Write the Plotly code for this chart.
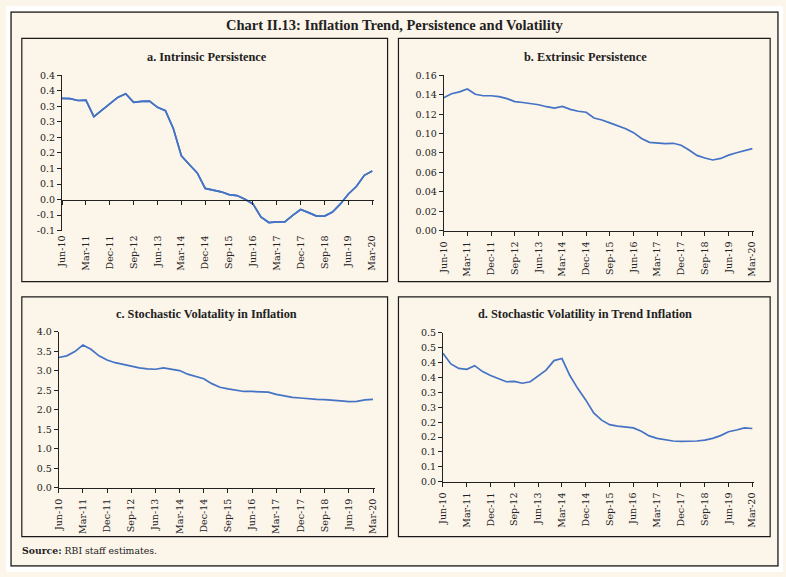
import plotly.graph_objects as go

W, H = 786, 577

quarters = [
    "Jun-10", "Sep-10", "Dec-10", "Mar-11", "Jun-11", "Sep-11", "Dec-11", "Mar-12",
    "Jun-12", "Sep-12", "Dec-12", "Mar-13", "Jun-13", "Sep-13", "Dec-13", "Mar-14",
    "Jun-14", "Sep-14", "Dec-14", "Mar-15", "Jun-15", "Sep-15", "Dec-15", "Mar-16",
    "Jun-16", "Sep-16", "Dec-16", "Mar-17", "Jun-17", "Sep-17", "Dec-17", "Mar-18",
    "Jun-18", "Sep-18", "Dec-18", "Mar-19", "Jun-19", "Sep-19", "Dec-19", "Mar-20",
]
x_ticks = ["Jun-10", "Mar-11", "Dec-11", "Sep-12", "Jun-13", "Mar-14", "Dec-14",
           "Sep-15", "Jun-16", "Mar-17", "Dec-17", "Sep-18", "Jun-19", "Mar-20"]

intrinsic = [0.326, 0.325, 0.319, 0.320, 0.267, 0.288, 0.311, 0.329, 0.341, 0.313,
             0.316, 0.317, 0.297, 0.286, 0.228, 0.141, 0.113, 0.086, 0.036, 0.031,
             0.025, 0.016, 0.013, 0.001, -0.014, -0.056, -0.074, -0.072, -0.072, -0.051,
             -0.032, -0.042, -0.053, -0.053, -0.040, -0.014, 0.018, 0.042, 0.078, 0.092]
extrinsic = [0.137, 0.141, 0.143, 0.146, 0.1405, 0.139, 0.139, 0.138, 0.136, 0.133,
             0.132, 0.131, 0.1297, 0.1277, 0.1263, 0.128, 0.125, 0.123, 0.122, 0.116,
             0.114, 0.111, 0.108, 0.105, 0.101, 0.095, 0.091, 0.090, 0.0896, 0.090,
             0.088, 0.083, 0.0775, 0.0748, 0.0728, 0.0744, 0.0778, 0.0802, 0.082, 0.0845]
sv_inflation = [3.346, 3.388, 3.497, 3.665, 3.556, 3.388, 3.279, 3.212, 3.170, 3.120,
                3.078, 3.052, 3.044, 3.078, 3.044, 3.010, 2.918, 2.868, 2.801, 2.675,
                2.583, 2.541, 2.499, 2.474, 2.474, 2.465, 2.457, 2.398, 2.356, 2.323,
                2.306, 2.281, 2.273, 2.264, 2.256, 2.231, 2.214, 2.222, 2.256, 2.273]
sv_trend = [0.432, 0.396, 0.381, 0.378, 0.390, 0.370, 0.357, 0.346, 0.336, 0.337,
            0.331, 0.336, 0.354, 0.375, 0.407, 0.414, 0.357, 0.313, 0.275, 0.231,
            0.207, 0.192, 0.187, 0.1835, 0.181, 0.170, 0.154, 0.146, 0.141, 0.137,
            0.136, 0.136, 0.137, 0.140, 0.146, 0.155, 0.168, 0.174, 0.181, 0.179]

ya_vals = [-0.10, -0.05, 0.00, 0.05, 0.10, 0.15, 0.20, 0.25, 0.30, 0.35, 0.40]
ya_text = ["-0.1", "-0.1", "0.0", "0.1", "0.1", "0.2", "0.2", "0.3", "0.3", "0.4", "0.4"]
yb_vals = [0.00, 0.02, 0.04, 0.06, 0.08, 0.10, 0.12, 0.14, 0.16]
yb_text = ["0.00", "0.02", "0.04", "0.06", "0.08", "0.10", "0.12", "0.14", "0.16"]
yc_vals = [0.0, 0.5, 1.0, 1.5, 2.0, 2.5, 3.0, 3.5, 4.0]
yc_text = ["0.0", "0.5", "1.0", "1.5", "2.0", "2.5", "3.0", "3.5", "4.0"]
yd_vals = [0.00, 0.05, 0.10, 0.15, 0.20, 0.25, 0.30, 0.35, 0.40, 0.45, 0.50]
yd_text = ["0.0", "0.1", "0.1", "0.2", "0.2", "0.3", "0.3", "0.4", "0.4", "0.5", "0.5"]

titles = ["a. Intrinsic Persistence", "b. Extrinsic Persistence",
          "c. Stochastic Volatality in Inflation", "d. Stochastic Volatility in Trend Inflation"]
chart_title = "Chart II.13: Inflation Trend, Persistence and Volatility"
source = "<b>Source:</b> RBI staff estimates."

LINE = "#4472C4"
BG = "#FCF5EA"
AX = "#222222"
TICKFONT = dict(family="DejaVu Serif", size=9.5, color="#222222")


def px(x):
    return x / W


def py(y):
    return 1 - y / H


# plot-area geometry in pixels: (left, right, top, bottom)
panels = [
    (56.7, 372.5, 70.7, 229.0),
    (442.7, 757.0, 70.7, 229.0),
    (53.3, 373.3, 332.3, 491.3),
    (442.0, 757.0, 333.3, 485.0),
]
series = [intrinsic, extrinsic, sv_inflation, sv_trend]
yranges = [(-0.10, 0.40), (0.0, 0.16), (0.0, 4.0), (0.0, 0.50)]
yticks = [(ya_vals, ya_text), (yb_vals, yb_text), (yc_vals, yc_text), (yd_vals, yd_text)]

fig = go.Figure()
layout = {}
for i, (ser, (l, r, t, b), yr, (tv, tt)) in enumerate(zip(series, panels, yranges, yticks)):
    n = i + 1
    xa = "x" if n == 1 else f"x{n}"
    ya = "y" if n == 1 else f"y{n}"
    fig.add_trace(go.Scatter(x=quarters, y=ser, mode="lines", xaxis=xa, yaxis=ya,
                             line=dict(color=LINE, width=1.7), showlegend=False,
                             hoverinfo="x+y"))
    xr = [0, len(quarters) - 1 + 0.25]
    xdom = [px(l), px(r)]
    ydom = [py(b), py(t)]
    zero_axis = yr[0] < 0
    layout[f"xaxis{'' if n == 1 else n}"] = dict(
        domain=xdom, anchor=ya, type="category", range=xr,
        tickmode="array", tickvals=x_ticks, ticktext=x_ticks, tickangle=-90,
        tickfont=TICKFONT, showgrid=False, zeroline=False,
        showline=not zero_axis, linecolor=AX, linewidth=1,
        ticks="" if zero_axis else "outside", ticklen=4, tickcolor=AX, tickwidth=1,
        ticklabelstandoff=2,
    )
    layout[f"yaxis{'' if n == 1 else n}"] = dict(
        domain=ydom, anchor=xa, range=list(yr), tickmode="array", tickvals=tv,
        ticktext=tt, tickfont=TICKFONT, showgrid=False, zeroline=False,
        showline=True, linecolor=AX, linewidth=1, ticks="outside", ticklen=4,
        tickcolor=AX, tickwidth=1,
    )
    if zero_axis:
        # axis line drawn through zero, as in the reference
        zpos = ydom[0] + (0 - yr[0]) / (yr[1] - yr[0]) * (ydom[1] - ydom[0])
        layout["xaxis5"] = dict(
            overlaying=xa, anchor="free", position=zpos, type="category", range=xr,
            tickmode="array", tickvals=x_ticks, showticklabels=False,
            showgrid=False, zeroline=False, showline=True, linecolor=AX, linewidth=1,
            ticks="outside", ticklen=4, tickcolor=AX, tickwidth=1, domain=xdom,
        )
        fig.add_trace(go.Scatter(x=quarters, y=ser, mode="lines", xaxis="x5", yaxis=ya,
                                 line=dict(color=LINE, width=1.7), showlegend=False,
                                 hoverinfo="skip"))

shapes = []
# white margin outside the outer frame
for (x0, x1, y0, y1) in [(0, W, 0, 5.3), (0, W, 571.7, H), (0, 4.3, 0, H), (781.7, W, 0, H)]:
    shapes.append(dict(type="rect", xref="paper", yref="paper", x0=px(x0), x1=px(x1),
                       y0=py(y1), y1=py(y0), line=dict(width=0), fillcolor="white",
                       layer="above"))
shapes.append(dict(type="rect", xref="paper", yref="paper", x0=px(5), x1=px(781),
                   y0=py(571), y1=py(6), line=dict(color="#1a1a1a", width=1.5),
                   layer="below"))
boxes = [(16, 386, 33, 281), (397, 773, 33, 281), (16, 386, 296.5, 541), (397, 773, 296.5, 541)]
for (x0, x1, y0, y1) in boxes:
    shapes.append(dict(type="rect", xref="paper", yref="paper", x0=px(x0), x1=px(x1),
                       y0=py(y1), y1=py(y0), line=dict(color="#1a1a1a", width=1.2),
                       layer="below"))

title_pos = [(203, 51.5), (586, 51.5), (203, 314), (586, 314)]
annotations = []
for txt, (cx, cy) in zip(titles, title_pos):
    annotations.append(dict(text=f"<b>{txt}</b>", x=px(cx), y=py(cy), xref="paper", yref="paper",
                            showarrow=False, xanchor="center", yanchor="middle",
                            font=dict(family="Liberation Serif", size=12.3, color="#222222")))
annotations.append(dict(text=f"<b>{chart_title}</b>", x=px(393), y=py(19), xref="paper",
                        yref="paper", showarrow=False, xanchor="center", yanchor="middle",
                        font=dict(family="Liberation Serif", size=14.5, color="#222222")))
annotations.append(dict(text=source, x=px(14), y=py(555), xref="paper", yref="paper",
                        showarrow=False, xanchor="left", yanchor="middle",
                        font=dict(family="DejaVu Serif", size=9.3, color="#222222")))

fig.update_layout(
    width=W, height=H, margin=dict(l=0, r=0, t=0, b=0, pad=0),
    paper_bgcolor=BG, plot_bgcolor="rgba(0,0,0,0)",
    shapes=shapes, annotations=annotations, showlegend=False,
    **layout,
)
pin_script = (
    "document.documentElement.style.margin='0';"
    "document.documentElement.style.overflow='hidden';"
    "document.body.style.margin='0';document.body.style.overflow='hidden';"
    "var gd=document.getElementById('{plot_id}');"
    "gd.style.position='fixed';gd.style.left='0px';gd.style.top='0px';"
)
fig.write_html("out.html", config={"displayModeBar": False}, post_script=pin_script)
